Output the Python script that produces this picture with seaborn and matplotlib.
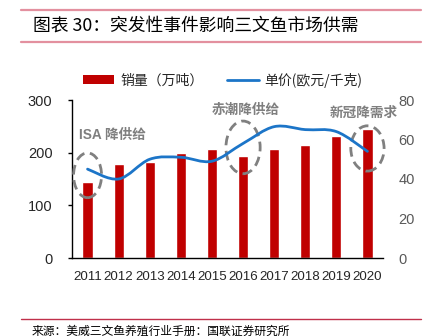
import matplotlib
matplotlib.use("Agg")
import matplotlib.pyplot as plt
from matplotlib.path import Path
from matplotlib.patches import PathPatch, Ellipse, Patch
from matplotlib.lines import Line2D
import numpy as np
import pandas as pd
import seaborn as sns

years = ["2011", "2012", "2013", "2014", "2015", "2016", "2017", "2018", "2019", "2020"]
sales = [145, 178, 183, 200, 207, 194, 207, 214, 231, 244]          # 销量（万吨）
price = [45, 40, 50, 51, 49, 58, 66.5, 65, 64, 54]                  # 单价(欧元/千克)
left_ticks = [0, 100, 200, 300]
right_ticks = [0, 20, 40, 60, 80]

sns.set_theme(style="white")
num_font = "Liberation Sans"
cjk = ["Noto Sans CJK SC", "DejaVu Sans"]
plt.rcParams["font.family"] = [num_font, "Noto Sans CJK SC", "DejaVu Sans"]

W, H = 437, 336
fig = plt.figure(figsize=(W / 100, H / 100), dpi=100)

# title with rules above and below
fig.add_artist(Line2D([21 / W, 421 / W], [1 - 10 / H, 1 - 10 / H], color="#e3909f", lw=1.6))
fig.add_artist(Line2D([21 / W, 421 / W], [1 - 42 / H, 1 - 42 / H], color="#e3909f", lw=1.6))
fig.text(33 / W, 1 - 26 / H, "图表 30：突发性事件影响三文鱼市场供需", family=cjk,
         fontsize=12.8, color="black", va="center", ha="left", style="italic")

# source line
fig.add_artist(Line2D([21 / W, 421 / W], [1 - 319 / H, 1 - 319 / H], color="#c0304a", lw=1.0))
fig.text(32 / W, 1 - 331 / H, "来源：美威三文鱼养殖行业手册：国联证券研究所", family=cjk,
         fontsize=8.5, color="black", va="center", ha="left")

ax = fig.add_axes([72 / W, 1 - 258 / H, (383 - 72) / W, (258 - 100) / H])
df = pd.DataFrame({"year": years, "sales": sales, "price": price})
sns.barplot(data=df, x="year", y="sales", color="#C00000", saturation=1, width=0.33, ax=ax)
ax.set_xlim(-0.5, len(years) - 0.5)
ax.set_ylim(0, 300)
ax.set_yticks(left_ticks)
ax.set_xlabel("")
ax.set_ylabel("")
for s in ["top", "right"]:
    ax.spines[s].set_visible(False)
for s in ["left", "bottom"]:
    ax.spines[s].set_color("black")
    ax.spines[s].set_linewidth(1.0)
ax.set_xticks(np.arange(-0.5, len(years), 1.0), minor=True)
ax.tick_params(axis="x", which="major", length=0, labelsize=9.6, labelcolor="#262626", pad=9)
ax.tick_params(axis="x", which="minor", length=4, width=1, color="black", direction="out")
ax.tick_params(axis="y", length=3, width=1, color="black", direction="out",
               labelsize=10.5, labelcolor="#262626", left=True, pad=11)

ax2 = ax.twinx()
ax2.set_ylim(0, 80)
ax2.set_yticks(right_ticks)
for s in ax2.spines.values():
    s.set_visible(False)
ax2.tick_params(axis="y", length=0, labelsize=10.5, labelcolor="#595959", pad=11)

# smoothed price curve (cubic Bezier through the yearly points)
x = np.arange(len(years), dtype=float)
y = np.array(price, dtype=float)
verts = [(x[0], y[0])]
codes = [Path.MOVETO]
for i in range(len(x) - 1):
    p0 = np.array([x[max(i - 1, 0)], y[max(i - 1, 0)]])
    p1 = np.array([x[i], y[i]])
    p2 = np.array([x[i + 1], y[i + 1]])
    p3 = np.array([x[min(i + 2, len(x) - 1)], y[min(i + 2, len(x) - 1)]])
    c1 = p1 + (p2 - p0) / 6.0
    c2 = p2 - (p3 - p1) / 6.0
    verts += [tuple(c1), tuple(c2), tuple(p2)]
    codes += [Path.CURVE4] * 3
ax2.add_patch(PathPatch(Path(verts, codes), fill=False, edgecolor="#1c75c8", lw=2.0,
                        capstyle="round", zorder=3))

# event markers
events = [
    (0, 157, 0.9, 85, "ISA 降供给", -0.26, 233),
    (5, 210, 1.1, 100, "赤潮降供给", 4.0, 281),
    (9, 208, 1.07, 86, "新冠降需求", 7.8, 275),
]
for cx, cy, ew, eh, label, tx, ty in events:
    ax.add_patch(Ellipse((cx, cy), ew, eh, fill=False, edgecolor="#808080", lw=2.0,
                         linestyle=(0, (3.5, 2.0)), zorder=4, clip_on=False))
    ax.text(tx, ty, label, family=[num_font, "Noto Sans CJK SC"], fontsize=9.8,
            color="#7f7f7f", fontweight="bold", va="center", ha="left", zorder=5)

handles = [Patch(facecolor="#C00000", edgecolor="none"),
           Line2D([0], [0], color="#1c75c8", lw=2.0)]
fig.legend(handles, ["销量（万吨）", "单价(欧元/千克)"], ncol=2, frameon=False,
           loc="center left", bbox_to_anchor=(70 / W, 1 - 80 / H),
           prop={"family": cjk, "size": 10}, handlelength=2.3, handleheight=0.55,
           handletextpad=0.4, columnspacing=1.7, labelcolor="#262626")

fig.savefig("out.png", dpi=100)
